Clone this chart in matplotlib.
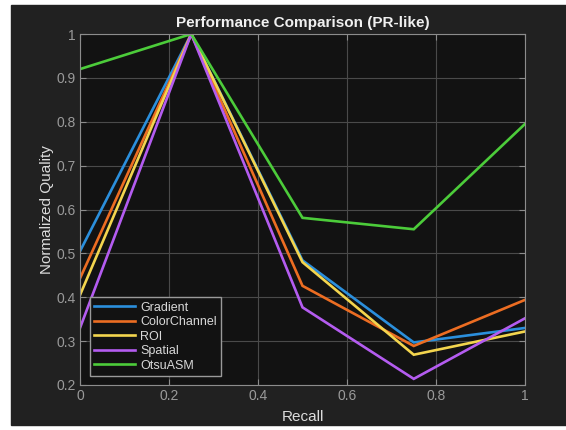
import matplotlib
matplotlib.use('Agg')
import matplotlib.pyplot as plt

plt.rcParams['font.family'] = ['Liberation Sans', 'DejaVu Sans']

recall = [0, 0.25, 0.5, 0.75, 1]
names = ['Gradient', 'ColorChannel', 'ROI', 'Spatial', 'OtsuASM']
gradient = [0.505, 1.0, 0.484, 0.297, 0.330]
colorchannel = [0.443, 1.0, 0.426, 0.289, 0.394]
roi = [0.405, 1.0, 0.480, 0.269, 0.322]
spatial = [0.330, 1.0, 0.377, 0.214, 0.352]
otsuasm = [0.920, 1.0, 0.581, 0.555, 0.795]
series = [gradient, colorchannel, roi, spatial, otsuasm]
colors = ['#2b8fdc', '#ec6d22', '#f3d54e', '#b45cf0', '#4ccc3a']

fig = plt.figure(figsize=(5.66, 4.30), dpi=100, facecolor='white')
# dark figure panel
bg = plt.Rectangle((11/566, 5/430), 555/566, 420/430, transform=fig.transFigure,
                   color='#212121', zorder=-10)
fig.add_artist(bg)

ax = fig.add_axes([80/566, 45/430, 445/566, 351/430])
ax.set_zorder(1)
ax.set_facecolor('#121212')
for s, c, n in zip(series, colors, names):
    ax.plot(recall, s, color=c, lw=1.9, label=n, solid_joinstyle='miter')

ax.set_xlim(0, 1)
ax.set_ylim(0.2, 1)
ax.set_xticks([0, 0.2, 0.4, 0.6, 0.8, 1])
ax.set_xticklabels(['0', '0.2', '0.4', '0.6', '0.8', '1'])
ax.set_yticks([0.2, 0.3, 0.4, 0.5, 0.6, 0.7, 0.8, 0.9, 1])
ax.set_yticklabels(['0.2', '0.3', '0.4', '0.5', '0.6', '0.7', '0.8', '0.9', '1'])
ax.grid(True, color='#4a4a4a', lw=0.8)
ax.set_axisbelow(True)
for sp in ax.spines.values():
    sp.set_color('#8c8c8c')
    sp.set_linewidth(0.8)
ax.tick_params(direction='in', length=4, colors='#8c8c8c', labelcolor='#9a9a9a',
               labelsize=10, top=True, right=True, pad=3)

ax.set_xlabel('Recall', color='#dcdcdc', fontsize=11, labelpad=5)
ax.set_ylabel('Normalized Quality', color='#dcdcdc', fontsize=11, labelpad=2)
ax.set_title('Performance Comparison (PR-like)', color='#f0f0f0', fontsize=11,
             fontweight='bold', pad=5)

leg = ax.legend(loc='lower left', fontsize=9, frameon=True, fancybox=False,
                borderpad=0.35, labelspacing=0.2, handlelength=3.3, handletextpad=0.4,
                bbox_to_anchor=(0.022, 0.025), borderaxespad=0)
leg.get_frame().set_facecolor('#121212')
leg.get_frame().set_edgecolor('#9a9a9a')
leg.get_frame().set_alpha(1)
for t in leg.get_texts():
    t.set_color('#d8d8d8')

fig.savefig('out.png', dpi=100, facecolor='white')
